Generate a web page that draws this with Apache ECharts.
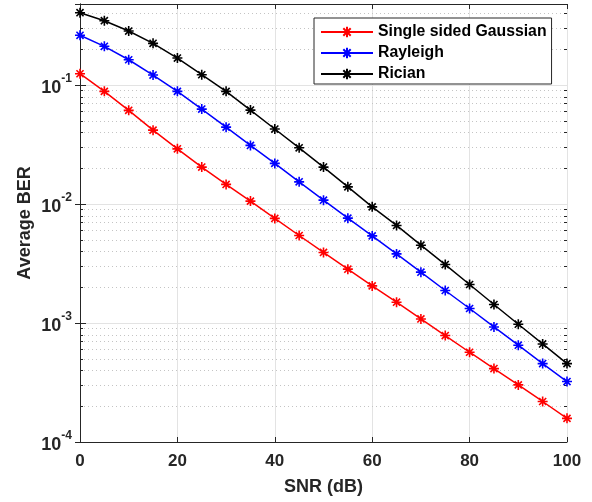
<!DOCTYPE html>
<html>
<head>
<meta charset="utf-8">
<script src="https://cdn.jsdelivr.net/npm/echarts@6/dist/echarts.min.js"></script>
<style>
html,body{margin:0;padding:0;background:#fff;}
#chart{width:592px;height:502px;}
</style>
</head>
<body>
<div id="chart"></div>
<script>
// ---- data ----
const snr = [0,5,10,15,20,25,30,35,40,45,50,55,60,65,70,75,80,85,90,95,100];
const gaussian = [0.1245,0.0885,0.0613,0.0418,0.0291,0.02044,0.01462,0.01058,0.00757,0.00544,0.00392,0.002835,0.002051,0.001496,0.001082,0.000785,0.000568,0.000414,0.000302,0.000219,0.000158];
const rayleigh = [0.262,0.2116,0.1632,0.1214,0.0885,0.0628,0.0443,0.0311,0.02196,0.01537,0.01078,0.00761,0.0054,0.00381,0.002676,0.001877,0.001324,0.000927,0.000651,0.000456,0.000322];
const rician = [0.4056,0.3474,0.2845,0.2242,0.1687,0.1221,0.0885,0.0616,0.0427,0.0297,0.02044,0.01395,0.00947,0.00661,0.00451,0.0031,0.002108,0.00143,0.000977,0.000667,0.000456];
const seriesNames = ['Single sided Gaussian','Rayleigh','Rician'];
const xTicks = [0,20,40,60,80,100];
const yMin = 1e-4, yMax = 0.48;

// minor log tick values (2..9 x 10^n) within range
const minorVals = [];
for (let e = -4; e <= -1; e++) {
  for (let k = 2; k <= 9; k++) {
    const v = k * Math.pow(10, e);
    if (v < yMax) minorVals.push(v);
  }
}

const FONT = '"Liberation Sans", Arial, Helvetica, sans-serif';
const TXT = '#262626';
const star = 'path://M0,5L10,5M5,0L5,10M1.46,1.46L8.54,8.54M1.46,8.54L8.54,1.46';

function mk(name, ys, color) {
  return {
    name: name, type: 'line',
    data: snr.map((x, i) => [x, ys[i]]),
    symbol: star, symbolSize: 10,
    lineStyle: {color: color, width: 1.5},
    itemStyle: {color: color, borderColor: color, borderWidth: 1.6},
    z: 5
  };
}

const chart = echarts.init(document.getElementById('chart'), null, {renderer: 'canvas'});
const option = {
  animation: false,
  backgroundColor: '#ffffff',
  grid: {left: 80, right: 25, top: 4, bottom: 60, containLabel: false},
  legend: {
    data: seriesNames,
    orient: 'vertical',
    left: 314, top: 18,
    itemWidth: 52, itemHeight: 13, itemGap: 5,
    padding: [6, 5, 2, 6],
    backgroundColor: '#ffffff',
    borderColor: TXT, borderWidth: 1, borderRadius: 0,
    textStyle: {fontFamily: FONT, fontWeight: 'bold', fontSize: 15.8, color: '#000'}
  },
  xAxis: [{
    type: 'value', min: 0, max: 100, interval: 20,
    name: 'SNR (dB)', nameLocation: 'middle', nameGap: 36,
    nameTextStyle: {fontFamily: FONT, fontWeight: 'bold', fontSize: 18, color: TXT},
    axisLine: {show: true, lineStyle: {color: TXT, width: 1}},
    axisTick: {show: true, inside: true, length: 5, lineStyle: {color: TXT}},
    axisLabel: {fontFamily: FONT, fontWeight: 'bold', fontSize: 17, color: TXT, margin: 11},
    splitLine: {show: true, lineStyle: {color: '#e3e3e3', width: 1}}
  }, {
    type: 'value', min: 0, max: 100, interval: 20, position: 'top',
    axisLine: {show: true, lineStyle: {color: TXT, width: 1}},
    axisTick: {show: true, inside: true, length: 5, lineStyle: {color: TXT}},
    axisLabel: {show: false}, splitLine: {show: false}
  }],
  yAxis: [{
    type: 'log', logBase: 10, min: yMin, max: yMax,
    name: 'Average BER', nameLocation: 'middle', nameGap: 46, nameMoveOverlap: false,
    nameTextStyle: {fontFamily: FONT, fontWeight: 'bold', fontSize: 18, color: TXT},
    axisLine: {show: true, lineStyle: {color: TXT, width: 1}},
    axisTick: {show: true, inside: true, length: 6, lineStyle: {color: TXT}},
    axisLabel: {
      margin: 8,
      formatter: function (v) {
        const e = Math.log10(v);
        if (Math.abs(e - Math.round(e)) > 1e-6) return '';
        return '{b|10}{s|' + Math.round(e) + '}';
      },
      rich: {
        b: {fontFamily: FONT, fontWeight: 'bold', fontSize: 18, color: TXT, lineHeight: 24, verticalAlign: 'bottom'},
        s: {fontFamily: FONT, fontWeight: 'bold', fontSize: 12, color: TXT, lineHeight: 14, verticalAlign: 'top'}
      }
    },
    splitLine: {show: true, lineStyle: {color: '#e3e3e3', width: 1}}
  }, {
    type: 'log', logBase: 10, min: yMin, max: yMax, position: 'right',
    axisLine: {show: true, lineStyle: {color: TXT, width: 1}},
    axisTick: {show: true, inside: true, length: 5, lineStyle: {color: TXT}},
    axisLabel: {show: false}, splitLine: {show: false}
  }],
  series: [
    {
      type: 'custom', name: 'minor', silent: true, z: 1,
      xAxisIndex: 0, yAxisIndex: 0,
      data: minorVals.map(v => [0, v]),
      renderItem: function (params, api) {
        const cs = params.coordSys;
        const y = Math.round(api.coord([0, api.value(1)])[1]) + 0.5;
        const x0 = cs.x, x1 = cs.x + cs.width;
        return {
          type: 'group',
          children: [
            {type: 'line', shape: {x1: x0, y1: y, x2: x1, y2: y},
             style: {stroke: '#c4c4c4', lineWidth: 1, lineDash: [1, 3]}},
            {type: 'line', shape: {x1: x0, y1: y, x2: x0 + 3, y2: y},
             style: {stroke: TXT, lineWidth: 1}},
            {type: 'line', shape: {x1: x1 - 3, y1: y, x2: x1, y2: y},
             style: {stroke: TXT, lineWidth: 1}}
          ]
        };
      }
    },
    mk(seriesNames[0], gaussian, '#ff0000'),
    mk(seriesNames[1], rayleigh, '#0000ff'),
    mk(seriesNames[2], rician, '#000000')
  ]
};
chart.setOption(option);
</script>
</body>
</html>
